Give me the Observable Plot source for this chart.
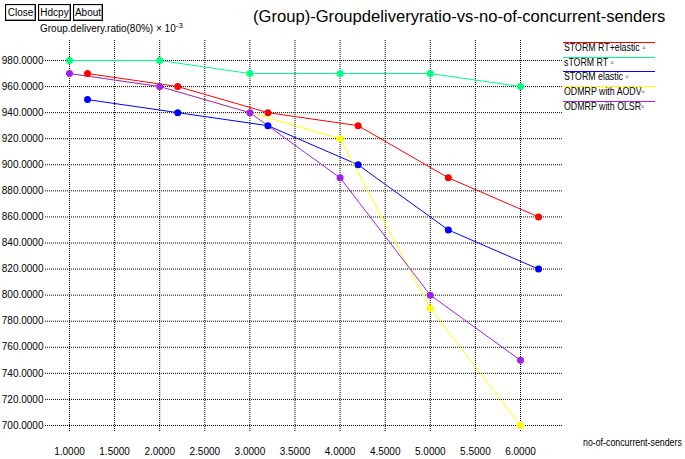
<!DOCTYPE html>
<html>
<head>
<meta charset="utf-8">
<script src="https://cdn.jsdelivr.net/npm/d3@7"></script>
<script src="https://cdn.jsdelivr.net/npm/@observablehq/plot@0.6"></script>
<style>
  body { margin: 0; background: #fff; font-family: "Liberation Sans", Arial, sans-serif; }
  #wrap { position: relative; width: 685px; height: 459px; overflow: hidden; background: #fff; }
  #chart { position: absolute; left: 0; top: 0; }
  .btn { position: absolute; top: 4px; height: 15px; border: 1px solid #000; box-shadow: inset -1px -1px 0 #999, inset 1px 1px 0 #ddd;
         font-size: 10px; line-height: 15px; text-align: center; color: #000; background: #fff; }
  .txt { position: absolute; color: #000; white-space: nowrap; }
  .narrow { transform: scaleX(0.88); transform-origin: 0 0; }
  .leg { position: absolute; left: 563px; width: 92px; height: 0; border-top: 1px solid; }
  .legt { position: absolute; left: 564px; font-size: 10px; line-height: 10px; white-space: nowrap; color: #000; }
  sup { font-size: 8px; vertical-align: 4px; line-height: 0; }
</style>
</head>
<body>
<div id="wrap">
  <div id="chart"></div>
</div>
<script>
// ---- data ----
const seriesNames = ["STORM RT+elastic \u25AB", "sTORM RT \u25AB", "STORM elastic \u25AB", "ODMRP with AODV\u25AB", "ODMRP with OLSR\u25AB"];
const seriesColors = ["#ff0000", "#00ff80", "#0000ff", "#ffff00", "#a020f0"];

const stormRTElasticX = [1.2, 2.2, 3.2, 4.2, 5.2, 6.2];
const stormRTElasticY = [970, 960, 940, 930, 890, 860];

const stormRTX = [1, 2, 3, 4, 5, 6];
const stormRTY = [980, 980, 970, 970, 970, 960];

const stormElasticX = [1.2, 2.2, 3.2, 4.2, 5.2, 6.2];
const stormElasticY = [950, 940, 930, 900, 850, 820];

const odmrpAodvX = [1, 2, 3, 4, 5, 6];
const odmrpAodvY = [970, 960, 940, 920, 790, 700];

const odmrpOlsrX = [1, 2, 3, 4, 5, 6];
const odmrpOlsrY = [970, 960, 940, 890, 800, 750];

const xTicks = [1, 1.5, 2, 2.5, 3, 3.5, 4, 4.5, 5, 5.5, 6];
const yTicks = [700, 720, 740, 760, 780, 800, 820, 840, 860, 880, 900, 920, 940, 960, 980];

const titleText = "(Group)-Groupdeliveryratio-vs-no-of-concurrent-senders";
const yLabelText = "Group.delivery.ratio(80%) \u00d7 10";
const yLabelSup = "-3";
const xLabelText = "no-of-concurrent-senders";
const buttons = ["Close", "Hdcpy", "About"];

// ---- build table ----
const xs = [stormRTElasticX, stormRTX, stormElasticX, odmrpAodvX, odmrpOlsrX];
const ys = [stormRTElasticY, stormRTY, stormElasticY, odmrpAodvY, odmrpOlsrY];
const data = [];
seriesNames.forEach((name, i) => xs[i].forEach((x, j) => data.push({series: name, x, y: ys[i][j]})));

// frame: x domain slightly wider than data so grid extends as in xgraph
const pxPerX = 90.2, pxPerY = 365 / 280;
const xDomain = [1 - 24 / pxPerX, 6 + 43 / pxPerX];
const yDomain = [700 - 7 / pxPerY, 980 + 20 / pxPerY];

const fmt = d3.format(".4f");
const grid = {stroke: "#000", strokeWidth: 1, strokeDasharray: "1,1"};

const chart = Plot.plot({
  width: 685, height: 459,
  marginLeft: 45, marginRight: 122, marginTop: 40, marginBottom: 27,
  style: {fontFamily: "'Liberation Sans', Arial, sans-serif", fontSize: "10px", background: "transparent", color: "#000"},
  x: {domain: xDomain},
  y: {domain: yDomain},
  color: {domain: seriesNames, range: seriesColors},
  marks: [
    Plot.ruleY(yTicks, grid),
    Plot.ruleX(xTicks, grid),
    Plot.axisY(yTicks, {tickSize: 0, tickPadding: 2, tickFormat: fmt, label: null, fill: "#000"}),
    Plot.axisX(xTicks, {tickSize: 0, tickPadding: 15, tickFormat: fmt, label: null, fill: "#000"}),
    Plot.line(data, {x: "x", y: "y", z: "series", stroke: "series", strokeWidth: 1}),
    Plot.dot(data, {x: "x", y: "y", fill: "series", r: 3.5})
  ]
});
document.getElementById("chart").appendChild(chart);

// ---- overlay text ----
const wrap = document.getElementById("wrap");
function add(cls, text, style) {
  const el = document.createElement("div");
  el.className = cls;
  el.textContent = text;
  Object.assign(el.style, style);
  wrap.appendChild(el);
  return el;
}
const btnPos = [[5, 29], [38, 31], [73, 28]];
buttons.forEach((b, i) => add("btn", b, {left: btnPos[i][0] + "px", width: btnPos[i][1] + "px"}));
add("txt", titleText, {left: "253px", top: "7px", fontSize: "16.6px", lineHeight: "20px"});
const yl = add("txt", yLabelText, {left: "40px", top: "23px", fontSize: "10px", lineHeight: "12px"});
const sup = document.createElement("sup");
sup.textContent = yLabelSup;
yl.appendChild(sup);
add("txt narrow", xLabelText, {left: "583px", top: "437px", fontSize: "10px", lineHeight: "12px"});

seriesNames.forEach((name, i) => {
  const top = 42 + i * 14.7;
  add("leg", "", {top: Math.round(top) + "px", borderTopColor: seriesColors[i]});
  add("legt narrow", name, {top: Math.round(top + 1) + "px"});
});
</script>
</body>
</html>
